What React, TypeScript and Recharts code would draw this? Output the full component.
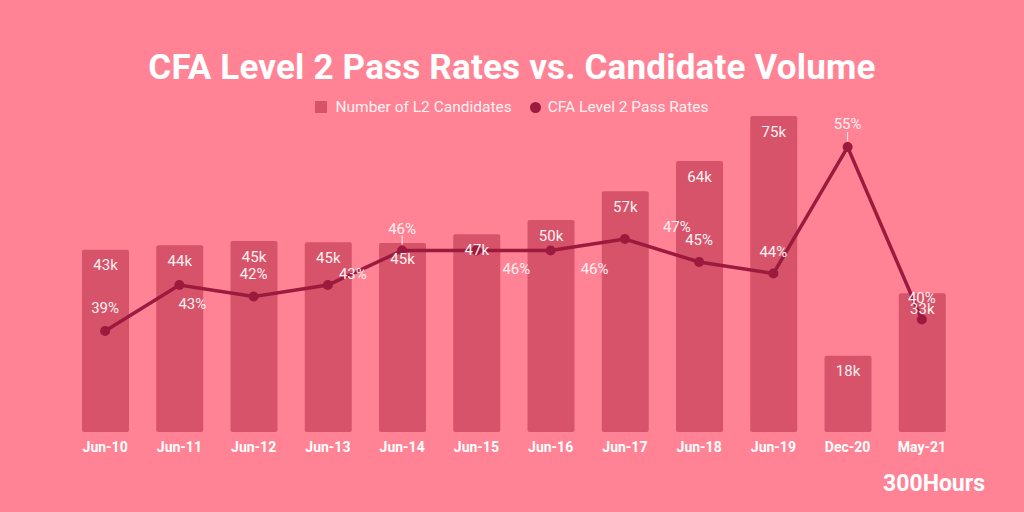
import React from "react";
import { ComposedChart, Bar, Line, XAxis, YAxis, LabelList } from "recharts";

// exam sittings
const categories = ["Jun-10", "Jun-11", "Jun-12", "Jun-13", "Jun-14", "Jun-15", "Jun-16", "Jun-17", "Jun-18", "Jun-19", "Dec-20", "May-21"];
// number of L2 candidates, thousands
const candidates = [43.3, 44.4, 45.4, 45.1, 44.9, 47.0, 50.4, 57.2, 64.4, 75.1, 18.1, 33.0];
// pass rates, %
const passRates = [39, 43, 42, 43, 46, 46, 46, 47, 45, 44, 55, 40];

const BG = "#ff8395";
const BAR = "#d6536a";
const LINE = "#9c1a3e";
const LABEL = "#fff0f2";
const FONT = "Roboto, sans-serif";

// where each pass-rate label sits relative to its point (dx, dy)
const rateLabelOffsets: Record<number, [number, number]> = {
  0: [0, -23],
  1: [13, 19],
  2: [0, -23],
  3: [25, -11],
  4: [0, -22],
  5: [40, 18],
  6: [44, 18],
  7: [52, -12],
  8: [0, -22],
  9: [0, -22],
  10: [0, -23],
  11: [0, -22],
};
const leaderLines = [4, 10];

const data = categories.map((c, i) => ({
  category: c,
  candidates: candidates[i],
  passRate: passRates[i],
}));

const RateLabel = (props: any) => {
  const { x, y, value, index } = props;
  const [dx, dy] = rateLabelOffsets[index] ?? [0, -22];
  return (
    <g>
      {leaderLines.includes(index) && (
        <line x1={x} x2={x} y1={y - 15} y2={y - 6} stroke={LABEL} strokeWidth={1} />
      )}
      <text
        x={x + dx}
        y={y + dy}
        textAnchor="middle"
        dominantBaseline="central"
        fill={LABEL}
        fontSize={15}
        fontFamily={FONT}
      >
        {value}%
      </text>
    </g>
  );
};

const CategoryTick = (props: any) => {
  const { x, y, payload } = props;
  return (
    <text x={x} y={y + 12} textAnchor="middle" fill="#ffffff" fontSize={14} fontWeight={700} fontFamily={FONT}>
      {payload.value}
    </text>
  );
};

export default function App() {
  return (
    <div style={{ position: "absolute", left: 0, top: 0, width: 1024, height: 512, background: BG, fontFamily: FONT, overflow: "hidden" }}>
      <ComposedChart width={1024} height={512} data={data} margin={{ top: 116, right: 65, bottom: 50, left: 68 }}>
        <XAxis dataKey="category" axisLine={false} tickLine={false} height={30} tick={<CategoryTick />} interval={0} />
        <YAxis yAxisId="left" hide domain={[0, "dataMax"]} />
        <YAxis yAxisId="right" hide domain={[30.22, 57.7]} />
        <Bar yAxisId="left" dataKey="candidates" name="Number of L2 Candidates" fill={BAR} barSize={47} radius={2} isAnimationActive={false}>
          <LabelList
            dataKey="candidates"
            position="insideTop"
            offset={10}
            fill={LABEL}
            fontSize={15}
            fontFamily={FONT}
            formatter={(v: any) => `${Math.round(v)}k`}
          />
        </Bar>
        <Line
          yAxisId="right"
          type="linear"
          dataKey="passRate"
          name="CFA Level 2 Pass Rates"
          stroke={LINE}
          strokeWidth={3.5}
          dot={{ r: 5, fill: LINE, stroke: LINE, strokeWidth: 0 }}
          activeDot={false}
          isAnimationActive={false}
        >
          <LabelList dataKey="passRate" content={<RateLabel />} />
        </Line>
      </ComposedChart>

      <div style={{ position: "absolute", top: 48, left: 0, width: 1024, textAlign: "center", color: "#ffffff", fontSize: 35, fontWeight: 700, lineHeight: "40px", letterSpacing: 0.2 }}>
        CFA Level 2 Pass Rates vs. Candidate Volume
      </div>

      <div style={{ position: "absolute", top: 97, left: 0, width: 1024, display: "flex", justifyContent: "center", alignItems: "center", height: 20, color: LABEL, fontSize: 15.5 }}>
        <span style={{ width: 12, height: 12, background: BAR, display: "inline-block", marginRight: 8 }} />
        <span>Number of L2 Candidates</span>
        <span style={{ width: 11, height: 11, borderRadius: "50%", background: LINE, display: "inline-block", marginLeft: 18, marginRight: 7 }} />
        <span>CFA Level 2 Pass Rates</span>
      </div>

      <div style={{ position: "absolute", top: 471, right: 39, color: "#ffffff", fontSize: 23, fontWeight: 700, lineHeight: "26px" }}>
        300Hours
      </div>
    </div>
  );
}
